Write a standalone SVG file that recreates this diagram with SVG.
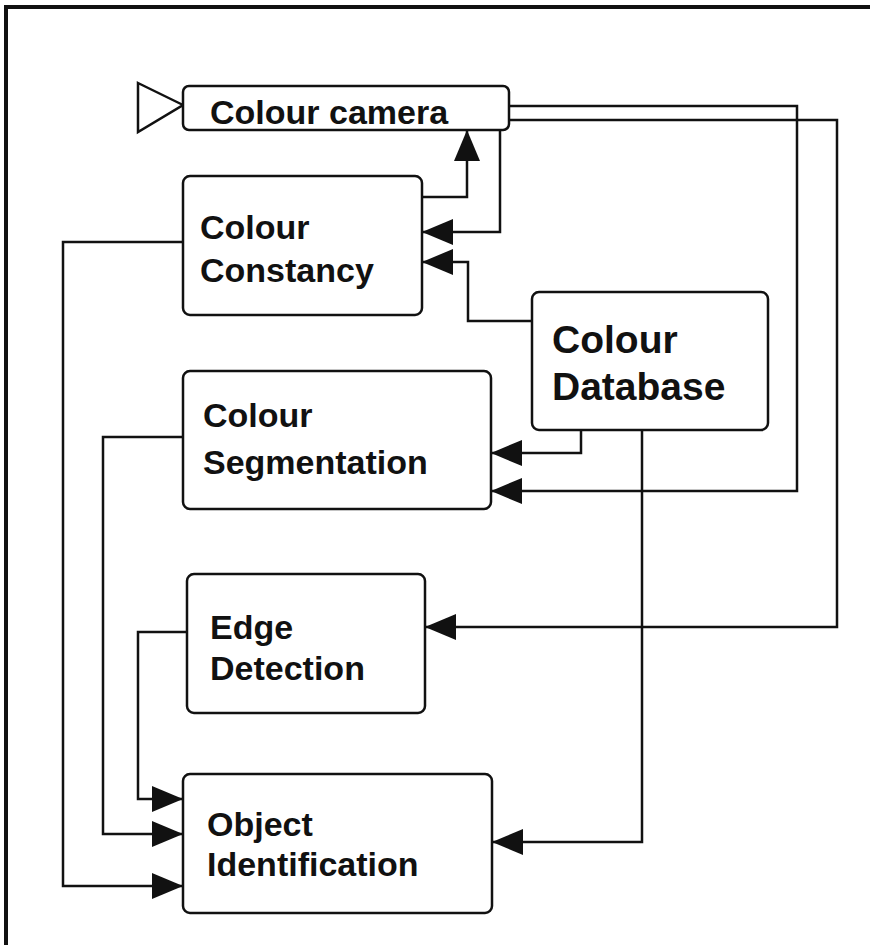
<svg xmlns="http://www.w3.org/2000/svg" width="870" height="945" viewBox="0 0 870 945">
  <style>
    .box { fill: #ffffff; stroke: #111111; stroke-width: 2.5; }
    .lbl { font-family: "Liberation Sans", Arial, sans-serif; font-weight: bold; font-size: 34px; fill: #111111; }
    .big { font-size: 39px; }
    .wire { fill: none; stroke: #111111; stroke-width: 2.5; }
    .arr { marker-end: url(#head); }
  </style>
  <defs>
    <marker id="head" markerUnits="userSpaceOnUse" markerWidth="32" markerHeight="28" refX="31" refY="13" orient="auto">
      <path d="M0,0 L31,13 L0,26 Z" fill="#111111"/>
    </marker>
  </defs>

  <rect width="870" height="945" fill="#ffffff"/>
  <!-- outer frame -->
  <path d="M6,945 V7 H870" fill="none" stroke="#111111" stroke-width="4"/>

  <g id="connectors">
    <!-- constancy -> camera -->
    <path class="wire arr" d="M422,197 H467 V130"/>
    <!-- camera -> constancy -->
    <path class="wire arr" d="M500,130 V232 H422"/>
    <!-- database -> constancy -->
    <path class="wire arr" d="M532,321 H468 V262 H422"/>
    <!-- database -> segmentation -->
    <path class="wire arr" d="M581,430 V453 H491"/>
    <!-- camera -> segmentation -->
    <path class="wire arr" d="M509,106 H797 V491 H491"/>
    <!-- camera -> edge detection -->
    <path class="wire arr" d="M509,120 H837 V627 H425"/>
    <!-- database -> object identification -->
    <path class="wire arr" d="M642,430 V842 H492"/>
    <!-- constancy -> object identification -->
    <path class="wire arr" d="M183,242 H63 V886 H183"/>
    <!-- segmentation -> object identification -->
    <path class="wire arr" d="M183,437 H103 V834 H183"/>
    <!-- edge detection -> object identification -->
    <path class="wire arr" d="M187,632 H138 V799 H183"/>
  </g>

  <g id="camera">
    <polygon points="138,83 183,105 138,132" fill="#ffffff" stroke="#111111" stroke-width="2.5"/>
    <rect class="box" x="183" y="86" width="326" height="44" rx="6"/>
    <text class="lbl" x="210" y="124">Colour camera</text>
  </g>

  <g id="constancy">
    <rect class="box" x="183" y="176" width="239" height="139" rx="7"/>
    <text class="lbl" x="200" y="239">Colour</text>
    <text class="lbl" x="200" y="282">Constancy</text>
  </g>

  <g id="database">
    <rect class="box" x="532" y="292" width="236" height="138" rx="7"/>
    <text class="lbl big" x="552" y="353">Colour</text>
    <text class="lbl big" x="552" y="400">Database</text>
  </g>

  <g id="segmentation">
    <rect class="box" x="183" y="371" width="308" height="138" rx="7"/>
    <text class="lbl" x="203" y="427">Colour</text>
    <text class="lbl" x="203" y="474">Segmentation</text>
  </g>

  <g id="edge">
    <rect class="box" x="187" y="574" width="238" height="139" rx="7"/>
    <text class="lbl" x="210" y="639">Edge</text>
    <text class="lbl" x="210" y="680">Detection</text>
  </g>

  <g id="object">
    <rect class="box" x="183" y="774" width="309" height="139" rx="7"/>
    <text class="lbl" x="207" y="836">Object</text>
    <text class="lbl" x="207" y="876">Identification</text>
  </g>
</svg>
